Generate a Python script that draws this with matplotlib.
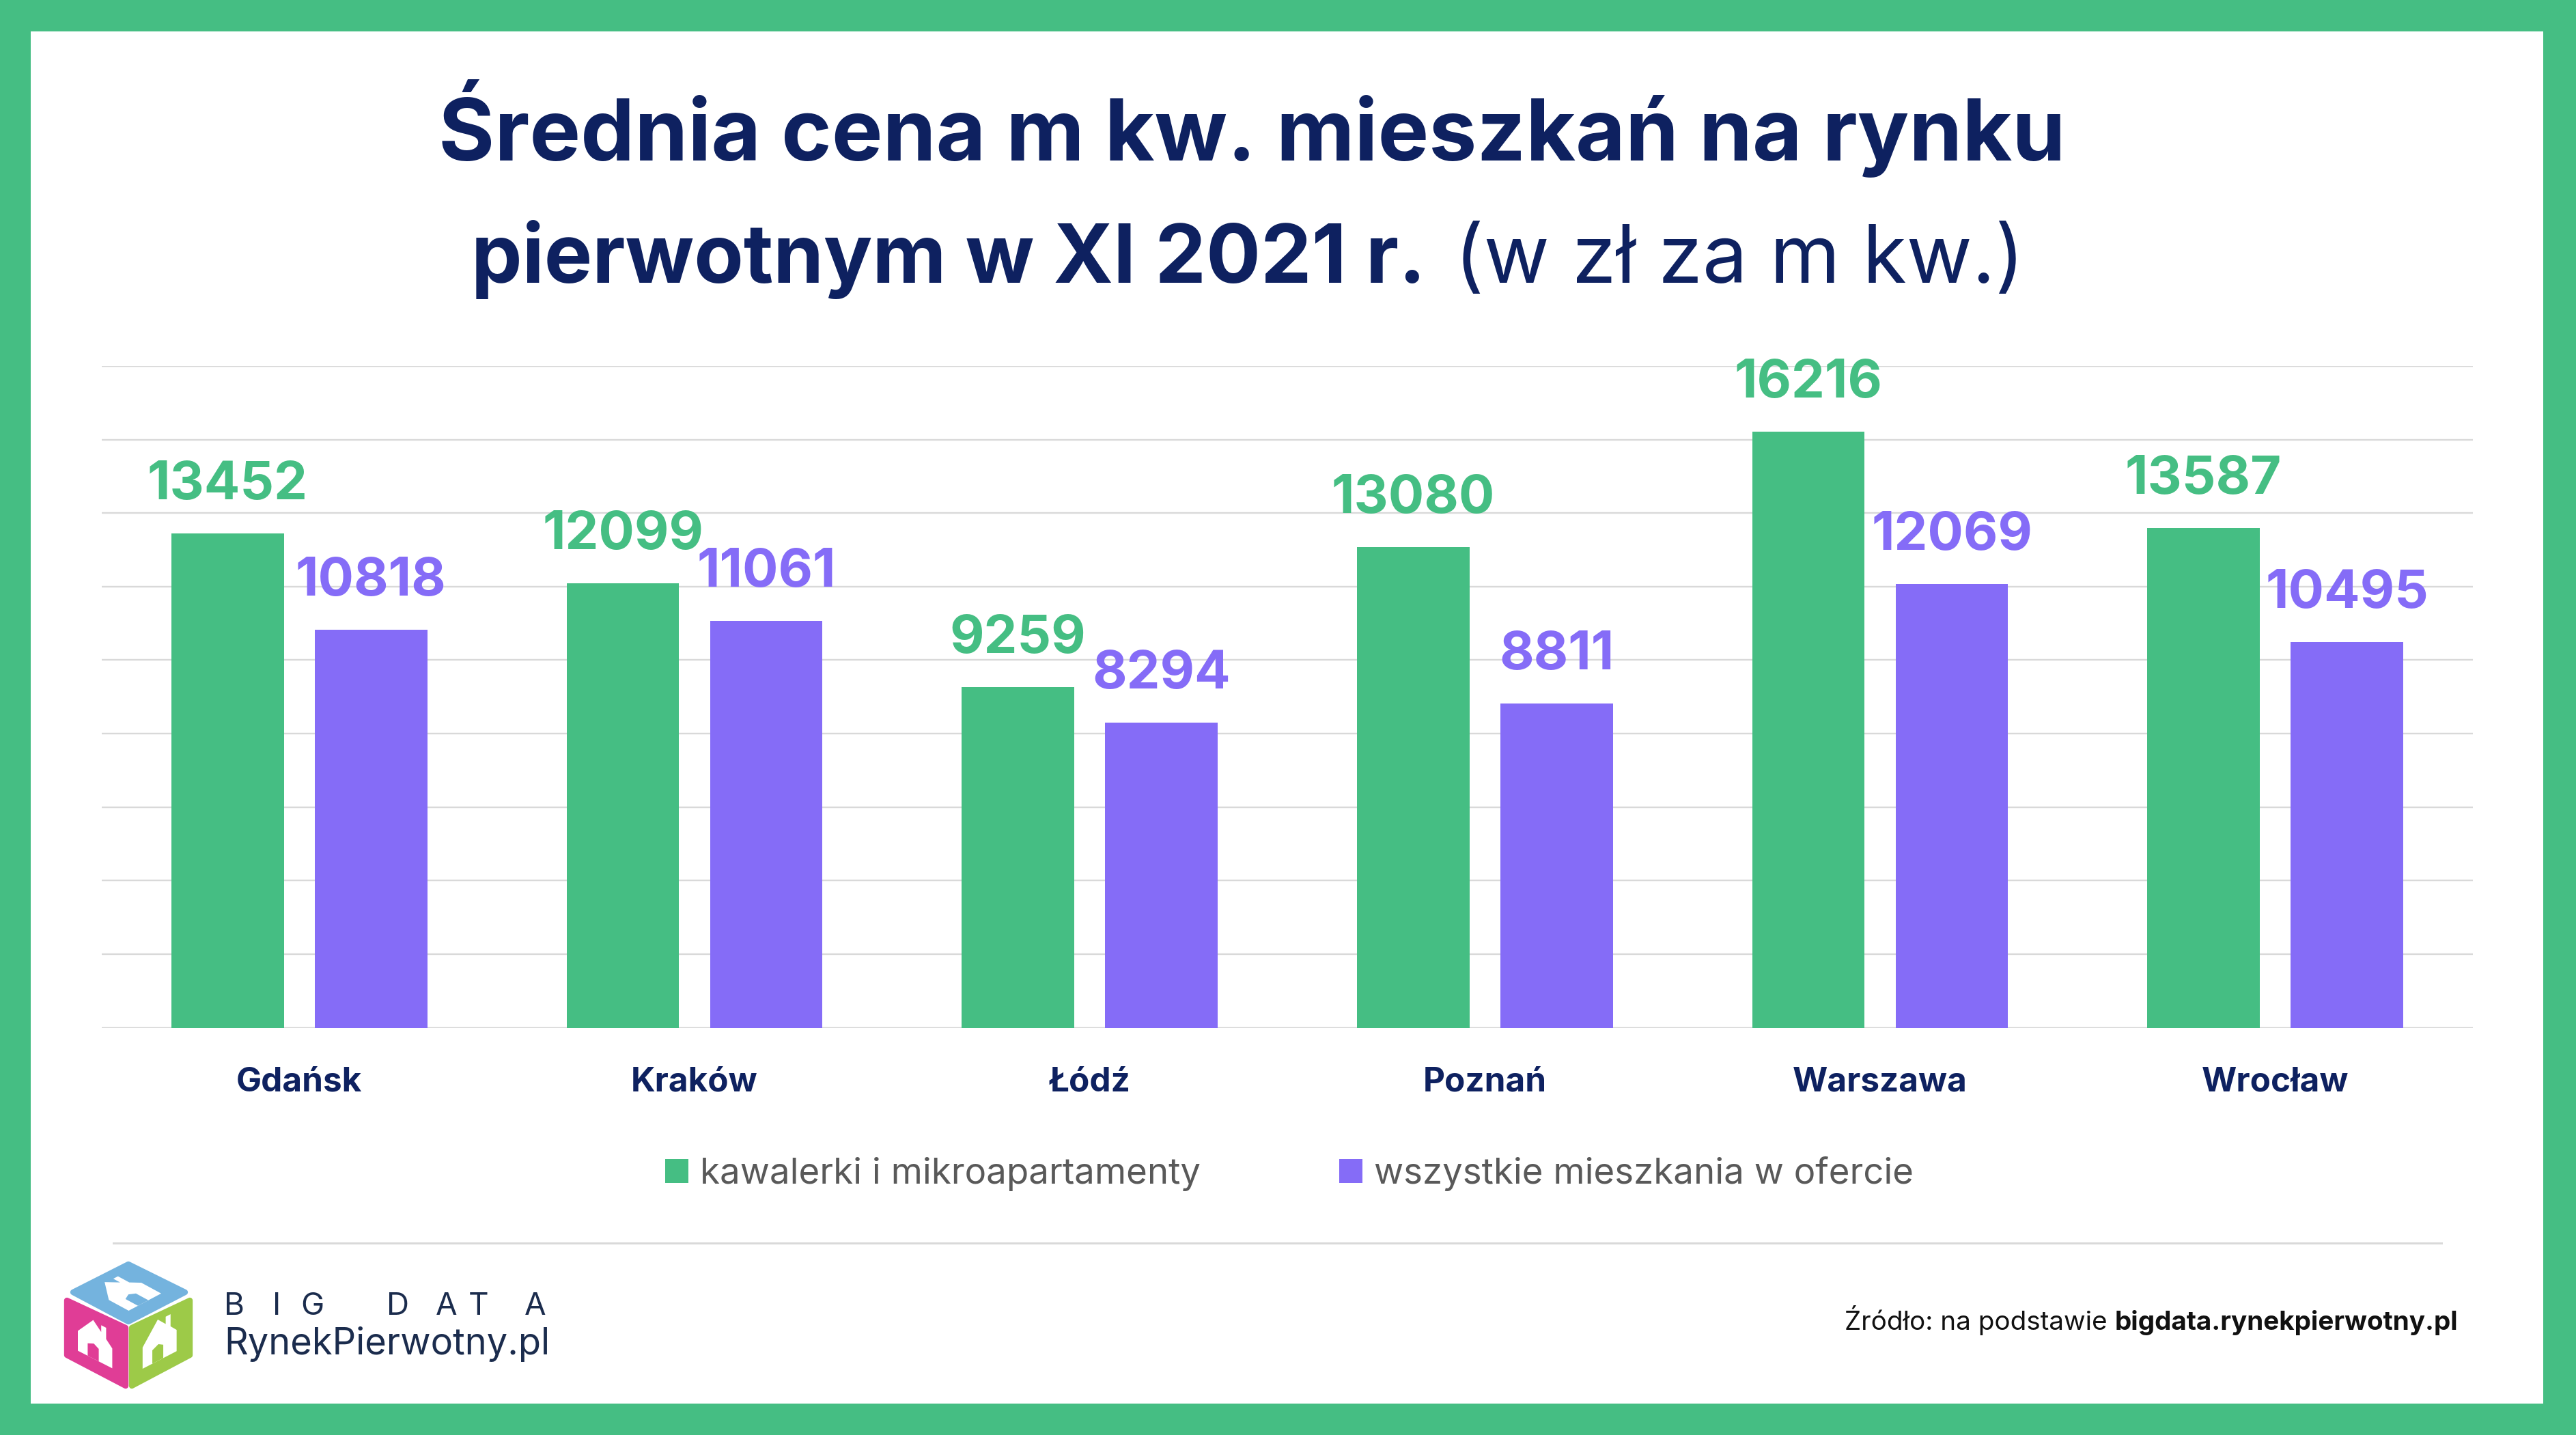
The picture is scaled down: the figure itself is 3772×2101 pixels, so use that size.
import matplotlib
matplotlib.use('Agg')
import matplotlib.pyplot as plt
from matplotlib.patches import Rectangle, Polygon
from matplotlib.lines import Line2D
import numpy as np

# ---------------- data ----------------
cities = ['Gdańsk', 'Kraków', 'Łódź', 'Poznań', 'Warszawa', 'Wrocław']
kawalerki = [13452, 12099, 9259, 13080, 16216, 13587]
wszystkie = [10818, 11061, 8294, 8811, 12069, 10495]
series_names = ['kawalerki i mikroapartamenty', 'wszystkie mieszkania w ofercie']
title_bold_1 = 'Średnia cena m kw. mieszkań na rynku'
title_bold_2 = 'pierwotnym w XI 2021 r.'
title_reg_2 = '(w zł za m kw.)'
source_reg = 'Źródło: na podstawie '
source_bold = 'bigdata.rynekpierwotny.pl'
logo_top = 'BIGDATA'
logo_bottom = 'RynekPierwotny.pl'

# ---------------- style ----------------
GREEN = '#45BE83'
PURPLE = '#856CF7'
NAVY = '#0E2160'
GRID = '#D9D9D9'
FONT = ['Inter', 'DejaVu Sans']
plt.rcParams['font.family'] = FONT

W, H = 3772, 2101
DPI = 100
PT = DPI / 72.0

fig = plt.figure(figsize=(W / DPI, H / DPI), dpi=DPI)
fig.patch.set_facecolor(GREEN)


def fx(x):
    return x / W


def fy(y):
    return 1 - y / H


# white card inside green frame
fig.patches.append(Rectangle((fx(45), fy(2055)), fx(3724) - fx(45), fy(46) - fy(2055),
                             transform=fig.transFigure, facecolor='white',
                             edgecolor='none', zorder=-2))

renderer = fig.canvas.get_renderer()


def fit(t, target):
    for _ in range(4):
        w = t.get_window_extent(renderer).width
        t.set_fontsize(t.get_fontsize() * target / w)
    return t.get_fontsize()


def fit_group(texts, target_total):
    for _ in range(4):
        tot = sum(t.get_window_extent(renderer).width for t in texts)
        for t in texts:
            t.set_fontsize(t.get_fontsize() * target_total / tot)
    return texts[0].get_fontsize()


# ---------------- axes ----------------
ax = fig.add_axes([fx(149), fy(1504.6), fx(3621) - fx(149), fy(536) - fy(1504.6)])
ax.set_facecolor('none')
x = np.arange(len(cities))
bw = 0.285
off = 0.1815
b1 = ax.bar(x - off, kawalerki, bw, color=GREEN, zorder=3, label=series_names[0])
b2 = ax.bar(x + off, wszystkie, bw, color=PURPLE, zorder=3, label=series_names[1])
ax.set_xlim(-0.5, len(cities) - 0.5)
ax.set_ylim(0, 18000)
ax.set_yticks(np.arange(0, 18001, 2000))
ax.yaxis.grid(True, color=GRID, linewidth=2.4 / PT, zorder=0)
ax.set_axisbelow(True)
for s in ax.spines.values():
    s.set_visible(False)
ax.tick_params(axis='y', length=0, labelleft=False)

# category labels: size chosen so that the summed label widths match the reference
tmps = [fig.text(0, 0, c, fontsize=36, fontweight='bold') for c in cities]
cat_size = fit_group(tmps, 1143)
for t in tmps:
    t.remove()
ax.tick_params(axis='x', length=0, pad=(1597 - 1504.6) / PT)
ax.set_xticks(x)
ax.set_xticklabels(cities, fontsize=cat_size, fontweight='bold', color=NAVY, va='baseline')

# value labels
tmp = fig.text(0, 0, '13452', fontsize=60, fontweight='bold')
val_size = fit(tmp, 235)
_, _, d = renderer.get_text_width_height_descent('lp', tmp.get_fontproperties(), ismath=False)
tmp.remove()
pad_pt = (50 - d) / PT
ax.bar_label(b1, labels=[str(v) for v in kawalerki], padding=pad_pt, fontsize=val_size,
             fontweight='bold', color=GREEN)
ax.bar_label(b2, labels=[str(v) for v in wszystkie], padding=pad_pt, fontsize=val_size,
             fontweight='bold', color=PURPLE)

# ---------------- title ----------------
t1 = fig.text(fx(1833), fy(235), title_bold_1, ha='center', va='baseline',
              fontsize=86, fontweight='bold', color=NAVY)
fit(t1, 2382)
tb = fig.text(fx(690), fy(414), title_bold_2, ha='left', va='baseline', fontsize=80,
              fontweight='bold', color=NAVY)
fit(tb, 1398)
tr = fig.text(fx(2130), fy(414), title_reg_2, ha='left', va='baseline', fontsize=80,
              fontweight='normal', color=NAVY)
fit(tr, 834)

# ---------------- legend ----------------
tmps = [fig.text(0, 0, s, fontsize=36) for s in series_names]
leg_size = fit_group(tmps, 750 + 770)
for t in tmps:
    t.remove()
Lpx = leg_size * PT
leg = ax.legend(handles=[b1, b2], labels=series_names, loc='center',
                bbox_to_anchor=(fx(1888), fy(1719)), bbox_transform=fig.transFigure,
                ncol=2, frameon=False, fontsize=leg_size,
                handlelength=34 / Lpx, handleheight=34 / Lpx, handletextpad=17 / Lpx,
                columnspacing=203 / Lpx, labelcolor='#595959', borderpad=0,
                borderaxespad=0)

# separator line
fig.lines.append(Line2D([fx(166), fx(3575)], [fy(1820), fy(1820)], transform=fig.transFigure,
                        color=GRID, linewidth=3 / PT))

# ---------------- source ----------------
sr = fig.text(0, fy(1947), source_reg, ha='left', va='baseline', fontsize=25, color='#111111')
sb = fig.text(0, fy(1947), source_bold, ha='left', va='baseline', fontsize=25,
              fontweight='bold', color='#111111')
fit_group([sr, sb], 898)
wsr = sr.get_window_extent(renderer).width
sr.set_x(fx(2701))
sb.set_x(fx(2701 + wsr))

# ---------------- logo ----------------
LOGO_NAVY = '#1B2C4D'
letter_x = [328, 399, 440, 566, 638, 686, 768]
for ch, lx in zip(logo_top, letter_x):
    fig.text(fx(lx), fy(1925), ch, ha='left', va='baseline', fontsize=33,
             color=LOGO_NAVY, fontweight='normal')
tl = fig.text(fx(328), fy(1983), logo_bottom, ha='left', va='baseline', fontsize=30,
              color=LOGO_NAVY, fontweight='normal')
fit(tl, 477)


def face(pts, color):
    poly = Polygon([(fx(a), fy(b)) for a, b in pts], closed=True, transform=fig.transFigure,
                   facecolor=color, edgecolor=color, linewidth=6, joinstyle='round', zorder=2)
    fig.patches.append(poly)


def local(origin, ua, va, pts):
    o = np.array(origin, float)
    u = np.array(ua, float) - o
    v = np.array(va, float) - o
    return [tuple(o + a * u + b * v) for a, b in pts]


top = [(188, 1851), (271, 1892), (188, 1935), (107, 1892)]
lf = [(98, 1904), (184, 1944), (184, 2029), (98, 1984)]
rf = [(193, 1944), (278, 1904), (278, 1984), (193, 2029)]
face(top, '#74B3DE')
face(lf, '#E03D96')
face(rf, '#9DCA48')

house = [(0.2, 0.2), (0.2, 0.55), (0.45, 0.88), (0.58, 0.74), (0.58, 0.86), (0.66, 0.86),
         (0.66, 0.66), (0.76, 0.55), (0.76, 0.2)]
door = [(0.36, 0.2), (0.36, 0.42), (0.46, 0.47), (0.54, 0.42), (0.54, 0.2)]


def house_on(origin, ua, va, facecol):
    hp = local(origin, ua, va, house)
    fig.patches.append(Polygon([(fx(a), fy(b)) for a, b in hp], closed=True,
                               transform=fig.transFigure, facecolor='white',
                               edgecolor='none', zorder=3))
    dp = local(origin, ua, va, door)
    fig.patches.append(Polygon([(fx(a), fy(b)) for a, b in dp], closed=True,
                               transform=fig.transFigure, facecolor=facecol,
                               edgecolor='none', zorder=4))


house_on((96, 1985), (186, 2031), (96, 1902), '#E03D96')
house_on((191, 2031), (280, 1985), (191, 1942), '#9DCA48')
house_on((188, 1937), (273, 1892), (105, 1892), '#74B3DE')

fig.savefig('out.png', dpi=DPI, facecolor=fig.get_facecolor())
